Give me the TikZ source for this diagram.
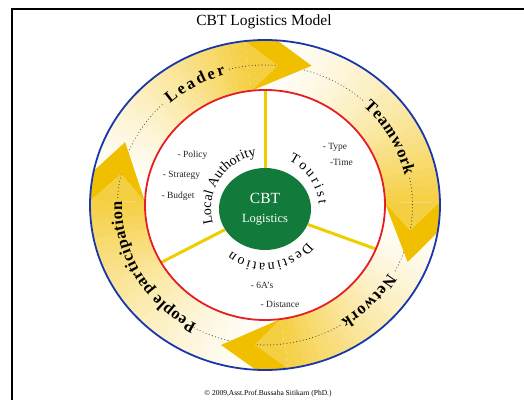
\documentclass[tikz,border=0pt]{standalone}
\usepackage{fontspec}
\setmainfont{Liberation Serif}
\usetikzlibrary{shapes.geometric, decorations.text}

\definecolor{ringblue}{RGB}{25,55,170}
\definecolor{ringred}{RGB}{228,30,35}
\definecolor{headgold}{RGB}{240,192,0}
\definecolor{bandgold}{RGB}{244,200,40}
\definecolor{spokeyellow}{RGB}{238,206,0}
\definecolor{cbtgreen}{RGB}{18,122,58}

\newcommand{\bandfont}{\fontsize{16.5}{19}\selectfont\bfseries}
\newcommand{\hubfont}{\fontsize{14}{16}\selectfont}
\newcommand{\listfont}{\fontsize{9.5}{11}\selectfont}

\tikzset{
    ring/.style={line width=1.8pt},
    spoke/.style={draw=spokeyellow, line width=3pt},
    dots/.style={draw=black!75, line width=1.1pt, line cap=round, dash pattern=on 0pt off 3.3pt},
    listitem/.style={font=\listfont, text=black!85, inner sep=0pt},
    bandlabel/.style={decorate, decoration={text along path, text={|\bandfont|#1}, text align={fit to path}, raise=-4.5pt}},
    hublabel/.style={decorate, decoration={text along path, text={|\hubfont|#1}, text align={fit to path}}},
}

\begin{document}
\begin{tikzpicture}[x=1pt, y=1pt]
    \useasboundingbox (0,0) rectangle (524,399);
    \draw[line width=2.2pt] (12,-2) |- (526,390);
    \node[font=\fontsize{15.5}{18}\selectfont] (title) at (264,377) {CBT Logistics Model};

    \begin{scope}[shift={(265,194)}]
        % bands, white tail to gold end
        \foreach \s/\e in {178/96.5, 96/1, 0.5/-82.5, 277/178.5}{
            \foreach \i in {0,...,29}{
                \pgfmathsetmacro\aa{\s+(\e-\s)*\i/30}
                \pgfmathsetmacro\bb{\s+(\e-\s)*min(\i+1.2,30)/30}
                \pgfmathsetmacro\pp{88*((\i+0.5)/30)^1.6}
                \fill[fill=bandgold!\pp!white] (\aa:175pt and 165pt) arc[start angle=\aa, end angle=\bb, x radius=175pt, y radius=165pt]
                    -- (\bb:120pt and 115pt) arc[start angle=\bb, end angle=\aa, x radius=120pt, y radius=115pt] -- cycle;
            }
        }
        \foreach \t [evaluate=\t as \e using \t+24, evaluate=\t as \n using \t+12.5] in {72.5, -23, -106.5, 154.5}
            \fill[fill=bandgold!88!white] (\e:175pt and 165pt) -- (\n:147.5pt and 140pt) -- (\e:120pt and 115pt) -- cycle;

        % dotted guide
        \foreach \a/\b in {104/48.5, 11/-29, -59.5/-119.5, 177/133.5}
            \draw[dots] (\a:147.5pt and 140pt) arc[start angle=\a, end angle=\b, x radius=147.5pt, y radius=140pt];

        % arrow heads
        \foreach \t [evaluate=\t as \e using \t+24, evaluate=\t as \n using \t+12.5, evaluate=\t as \f using \t+13.5] in {72.5, -23, -106.5, 154.5}
            \fill[headgold] (\e:175pt and 165pt) arc[start angle=\e, end angle=\f, x radius=175pt, y radius=165pt]
                -- (\t:155pt and 146pt) -- (\e:120pt and 115pt) -- (\n:147.5pt and 140pt) -- cycle;

        \node[ellipse, fill=cbtgreen, minimum width=92pt, minimum height=82pt, inner sep=0pt, text=white, align=center] (hub) at (0,-4)
            {{\fontsize{15.5}{18}\selectfont CBT}\\[7pt]{\fontsize{12.5}{14}\selectfont Logistics}};
        \coordinate (rimN) at (90:120pt and 115pt);
        \coordinate (rimE) at (-22.5:120pt and 115pt);
        \coordinate (rimW) at (210:120pt and 115pt);
        \draw[spoke] (hub) -- (rimN);
        \draw[spoke] (hub) -- (rimE);
        \draw[spoke] (hub) -- (rimW);

        \draw[ring, ringblue] (0,0) ellipse[x radius=175pt, y radius=165pt];
        \draw[ring, ringred] (0,0) ellipse[x radius=120pt, y radius=115pt];

        \path[bandlabel=Leader] (131.5:147.5pt and 140pt) arc[start angle=131.5, end angle=106, x radius=147.5pt, y radius=140pt];
        \path[bandlabel=Teamwork] (46.5:147.5pt and 140pt) arc[start angle=46.5, end angle=12.5, x radius=147.5pt, y radius=140pt];
        \path[bandlabel=Network] (-30.5:147.5pt and 140pt) arc[start angle=-30.5, end angle=-58, x radius=147.5pt, y radius=140pt];
        \path[bandlabel=People participation] (241.5:147.5pt and 140pt) arc[start angle=241.5, end angle=178.5, x radius=147.5pt, y radius=140pt];

        \begin{scope}[shift={(0,-4)}]
            \path[hublabel=Tourist] (64:54pt) arc[start angle=64, end angle=5, radius=54pt];
            \path[hublabel=Local Authority] (196:54pt) arc[start angle=196, end angle=99, radius=54pt];
            \path[hublabel=Destination] (-38:54pt) arc[start angle=-38, end angle=-128, radius=54pt];
        \end{scope}
    \end{scope}

    \node[listitem] (policy) at (192.5,244) {- Policy};
    \node[listitem] (strategy) at (181.5,224) {- Strategy};
    \node[listitem] (budget) at (178,203) {- Budget};
    \node[listitem] (type) at (335,252) {- Type};
    \node[listitem] (time) at (341.5,237) {-Time};
    \node[listitem] (sixa) at (262,114) {- 6A's};
    \node[listitem] (distance) at (280,95) {- Distance};

    \node[font=\fontsize{7.5}{9}\selectfont] (credit) at (268,5) {© 2009,Asst.Prof.Bussaba Sitikarn (PhD.)};
\end{tikzpicture}
\end{document}
